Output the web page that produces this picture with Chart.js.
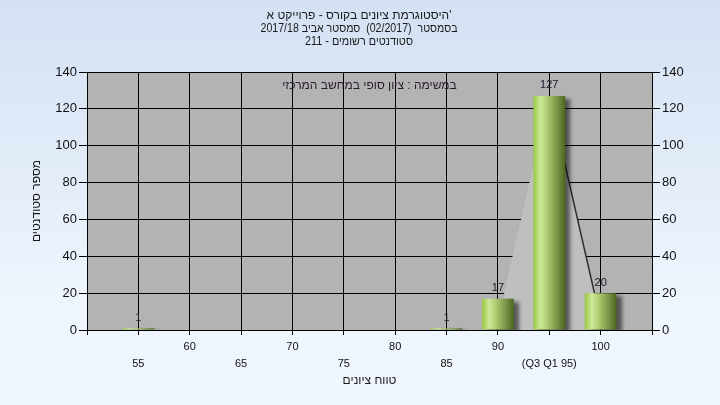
<!DOCTYPE html>
<html>
<head>
    <meta charset="utf-8">
    <title>היסטוגרמת ציונים</title>
    <script src="https://cdn.jsdelivr.net/npm/chart.js"></script>
    <style>
        html, body { margin: 0; padding: 0; }
        body { width: 720px; height: 405px; background: linear-gradient(#d4e1f3, #eef5fd 75%, #eef5fd); }
        #wrap { width: 720px; height: 405px; }
    </style>
</head>
<body>
<div id="wrap"><canvas id="myChart" width="720" height="405"></canvas></div>
<script>
    // נתונים
    const grades = [55, 85, 90, 95, 100];
    const counts = [1, 1, 17, 127, 20];

    // משולש הרבעונים (נקרא מהתמונה)
    const quartileX = [90.6, 95, 99.4];
    const quartileY = [20, 127, 20];

    const xTickValues = [55, 60, 65, 70, 75, 80, 85, 90, 95, 100];
    const xTickLabels = ['55', '60', '65', '70', '75', '80', '85', '90', '(Q3 Q1 95)', '100'];

    const titleLines = [
        "'היסטוגרמת ציונים בקורס - פרוייקט א",
        'בסמסטר  (02/2017)  סמסטר אביב 2017/18',
        'סטודנטים רשומים - 211'
    ];
    const innerText = 'במשימה : ציון סופי במחשב המרכזי';
    const xTitle = 'טווח ציונים';
    const yTitle = 'מספר סטודנטים';

    const FONT = '"Liberation Sans", Arial, sans-serif';

    // צבע עמודה עם מעבר
    function barGradient(c) {
        const chart = c.chart;
        const xs = chart.scales && chart.scales.x;
        if (!xs || !c.raw) return '#9ccb45';
        const x0 = xs.getPixelForValue(c.raw.x - 1.55);
        const x1 = xs.getPixelForValue(c.raw.x + 1.55);
        if (!isFinite(x0) || !isFinite(x1) || x1 <= x0) return '#9ccb45';
        const g = chart.ctx.createLinearGradient(x0, 0, x1, 0);
        g.addColorStop(0, '#98c840');
        g.addColorStop(0.22, '#cde89a');
        g.addColorStop(0.42, '#b0d074');
        g.addColorStop(0.65, '#8aa654');
        g.addColorStop(1, '#4a6620');
        return g;
    }

    const bgPlugin = {
        id: 'bg',
        beforeDraw(chart) {
            const a = chart.chartArea, ctx = chart.ctx;
            ctx.save();
            ctx.fillStyle = '#b3b3b3';
            ctx.fillRect(a.left, a.top, a.right - a.left, a.bottom - a.top);
            ctx.restore();
        },
        beforeDatasetDraw(chart, args) {
            if (args.index !== 0) return;
            const ctx = chart.ctx;
            ctx.save();
            ctx.shadowColor = 'rgba(0,0,0,0.55)';
            ctx.shadowOffsetX = 5;
            ctx.shadowOffsetY = 3;
            ctx.shadowBlur = 4;
        },
        afterDatasetDraw(chart, args) {
            if (args.index !== 0) return;
            chart.ctx.restore();
        },
        afterDatasetsDraw(chart) {
            const ctx = chart.ctx;
            const meta = chart.getDatasetMeta(0);
            ctx.save();
            ctx.font = '11px ' + FONT;
            ctx.fillStyle = '#1a1a2a';
            ctx.textAlign = 'center';
            ctx.textBaseline = 'bottom';
            meta.data.forEach((bar, i) => {
                ctx.fillText(String(counts[i]), bar.x, bar.y - 5);
            });
            ctx.restore();
        },
        afterDraw(chart) {
            const ctx = chart.ctx, a = chart.chartArea;
            ctx.save();
            ctx.direction = 'rtl';
            ctx.textAlign = 'center';
            ctx.textBaseline = 'middle';
            ctx.fillStyle = '#1a1a1a';
            ctx.font = '12px ' + FONT;
            // שורה 2 צרה יותר במקור
            const widths = [188, 197, 108];
            titleLines.forEach((t, i) => ctx.fillText(t, 359, 16 + i * 13, widths[i]));
            ctx.fillStyle = '#2a1a30';
            ctx.fillText(innerText, (a.left + a.right) / 2, 86);
            ctx.fillStyle = '#1a1a1a';
            ctx.fillText(xTitle, (a.left + a.right) / 2, 381);
            ctx.translate(37, (a.top + a.bottom) / 2);
            ctx.rotate(-Math.PI / 2);
            ctx.fillText(yTitle, 0, 0);
            ctx.restore();
        }
    };

    const yTicks = { stepSize: 20, color: '#111', font: { size: 13, family: FONT }, padding: 2 };

    new Chart(document.getElementById('myChart').getContext('2d'), {
        type: 'bar',
        data: {
            datasets: [{
                type: 'bar',
                data: grades.map((g, i) => ({ x: g, y: counts[i] })),
                backgroundColor: barGradient,
                borderWidth: 0,
                barPercentage: 0.62,
                categoryPercentage: 1,
                yAxisID: 'y',
                order: 0
            }, {
                type: 'line',
                data: quartileX.map((x, i) => ({ x: x, y: quartileY[i] })),
                fill: 'origin',
                backgroundColor: '#bfbfbf',
                borderWidth: 1.5,
                segment: { borderColor: c => c.p0DataIndex === 0 ? 'rgba(0,0,0,0)' : '#2e2e2e' },
                pointRadius: 0,
                tension: 0,
                yAxisID: 'y',
                order: 1
            }]
        },
        options: {
            responsive: false,
            animation: false,
            events: [],
            layout: { padding: { top: 72, left: 0, right: 0, bottom: 0 } },
            plugins: { legend: { display: false }, tooltip: { enabled: false }, title: { display: false } },
            scales: {
                x: {
                    type: 'linear',
                    min: 50, max: 105,
                    offset: false,
                    afterFit(s) { s.height = 75; },
                    afterBuildTicks(s) { s.ticks = [50].concat(xTickValues, [105]).map(v => ({ value: v })); },
                    ticks: {
                        autoSkip: false,
                        maxRotation: 0,
                        color: '#111',
                        font: { size: 11, family: FONT, lineHeight: 1.55 },
                        padding: 3,
                        callback(v) {
                            const i = xTickValues.indexOf(v);
                            if (i < 0) return '';
                            return i % 2 === 0 ? ['', xTickLabels[i]] : [xTickLabels[i]];
                        }
                    },
                    grid: { color: '#000', lineWidth: 1, tickLength: 5, offset: false },
                    border: { color: '#000' }
                },
                y: {
                    position: 'left',
                    min: 0, max: 140,
                    afterFit(s) { s.width = 87; },
                    ticks: yTicks,
                    grid: { color: '#000', lineWidth: 1, tickLength: 8 },
                    border: { color: '#000' }
                },
                y2: {
                    position: 'right',
                    min: 0, max: 140,
                    afterFit(s) { s.width = 68; },
                    ticks: yTicks,
                    grid: { drawOnChartArea: false, color: '#000', tickLength: 8 },
                    border: { color: '#000' }
                }
            }
        },
        plugins: [bgPlugin]
    });
</script>
</body>
</html>
